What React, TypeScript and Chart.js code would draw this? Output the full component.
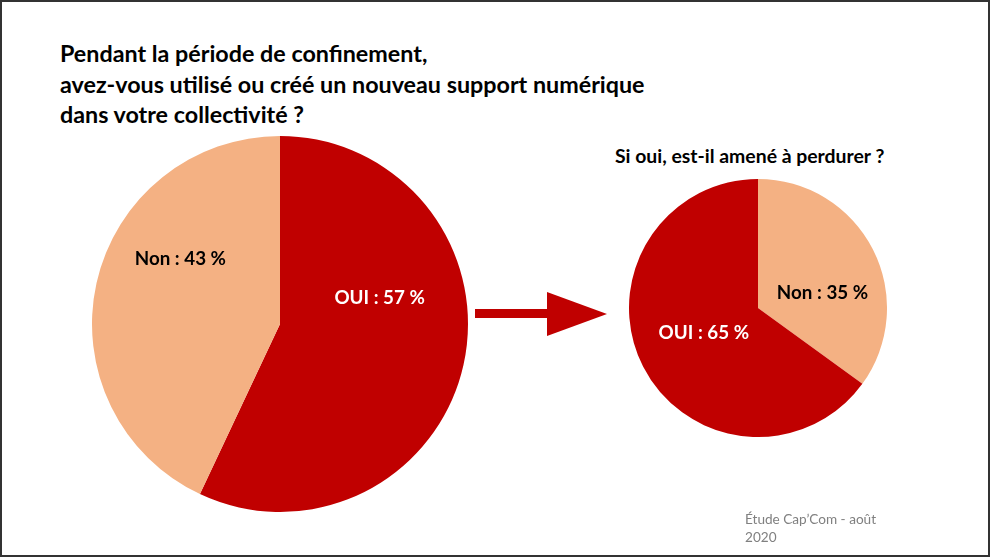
import React, { useEffect, useRef } from "react";
import { Chart, registerables } from "chart.js";

Chart.register(...registerables);

// ---- data ----
const mainCategories = ["OUI", "Non"];
const mainValues = [57, 43];
const followCategories = ["Non", "OUI"];
const followValues = [35, 65];

const titleLines = [
  "Pendant la période de confinement,",
  "avez-vous utilisé ou créé un nouveau support numérique",
  "dans votre collectivité ?",
];
const subtitle = "Si oui, est-il amené à perdurer ?";
const sourceLines = ["Étude Cap’Com - août", "2020"];

// ---- styles ----
const RED = "#C00000";
const PEACH = "#F4B183";
const FONT = "Lato, 'Open Sans', sans-serif";

type LabelPos = { dx: number; dy: number; color: string };

const labelPlugin = (positions: LabelPos[]) => ({
  id: "sliceLabels",
  afterDatasetsDraw(chart: any) {
    const meta = chart.getDatasetMeta(0);
    const ctx = chart.ctx;
    const labels = chart.data.labels as string[];
    const data = chart.data.datasets[0].data as number[];
    ctx.save();
    ctx.font = `bold 18.8px ${FONT}`;
    ctx.textAlign = "center";
    ctx.textBaseline = "middle";
    meta.data.forEach((arc: any, i: number) => {
      const r = arc.outerRadius;
      const p = positions[i];
      ctx.fillStyle = p.color;
      ctx.fillText(`${labels[i]} : ${data[i]} %`, arc.x + p.dx * r, arc.y + p.dy * r);
    });
    ctx.restore();
  },
});

function Pie({
  categories,
  values,
  colors,
  positions,
  style,
}: {
  categories: string[];
  values: number[];
  colors: string[];
  positions: LabelPos[];
  style: React.CSSProperties;
}) {
  const ref = useRef<HTMLCanvasElement | null>(null);
  useEffect(() => {
    if (!ref.current) return;
    const chart = new Chart(ref.current, {
      type: "pie",
      data: {
        labels: categories,
        datasets: [
          {
            data: values,
            backgroundColor: colors,
            borderWidth: 0,
          },
        ],
      },
      options: {
        animation: false,
        responsive: false,
        events: [],
        layout: { padding: 0 },
        plugins: { legend: { display: false }, tooltip: { enabled: false } },
      },
      plugins: [labelPlugin(positions)],
    });
    return () => chart.destroy();
  }, []);
  const w = style.width as number;
  const h = style.height as number;
  return (
    <div style={{ position: "absolute", ...style }}>
      <canvas ref={ref} width={w} height={h} style={{ width: w, height: h, display: "block" }} />
    </div>
  );
}

export default function App() {
  return (
    <div
      style={{
        position: "fixed",
        left: 0,
        top: 0,
        width: 990,
        height: 557,
        boxSizing: "border-box",
        border: "2px solid #333",
        background: "#fff",
        overflow: "hidden",
        fontFamily: FONT,
      }}
    >
      <div
        style={{
          position: "absolute",
          left: 58,
          top: 36,
          fontWeight: "bold",
          fontSize: 23.3,
          lineHeight: "30.5px",
          color: "#000",
          whiteSpace: "nowrap",
        }}
      >
        {titleLines.map((t, i) => (
          <div key={i}>{t}</div>
        ))}
      </div>
      <div
        style={{
          position: "absolute",
          left: 613,
          top: 141,
          fontWeight: "bold",
          fontSize: 19.4,
          lineHeight: "25px",
          color: "#000",
          whiteSpace: "nowrap",
        }}
      >
        {subtitle}
      </div>
      <Pie
        categories={mainCategories}
        values={mainValues}
        colors={[RED, PEACH]}
        positions={[
          { dx: 0.53, dy: -0.14, color: "#fff" },
          { dx: -0.53, dy: -0.345, color: "#000" },
        ]}
        style={{ left: 90, top: 134, width: 376, height: 376 }}
      />
      <Pie
        categories={followCategories}
        values={followValues}
        colors={[PEACH, RED]}
        positions={[
          { dx: 0.5, dy: -0.12, color: "#000" },
          { dx: -0.42, dy: 0.19, color: "#fff" },
        ]}
        style={{ left: 627, top: 177, width: 258, height: 258 }}
      />
      <svg
        width={990}
        height={557}
        style={{ position: "absolute", left: -2, top: -2, pointerEvents: "none" }}
      >
        <rect x={475} y={309} width={74} height={9} fill={RED} />
        <polygon points="547,292 607,314 547,336" fill={RED} />
      </svg>
      <div
        style={{
          position: "absolute",
          left: 743,
          top: 508,
          fontSize: 13.6,
          lineHeight: "18px",
          color: "#808080",
          whiteSpace: "nowrap",
        }}
      >
        {sourceLines.map((t, i) => (
          <div key={i}>{t}</div>
        ))}
      </div>
    </div>
  );
}
